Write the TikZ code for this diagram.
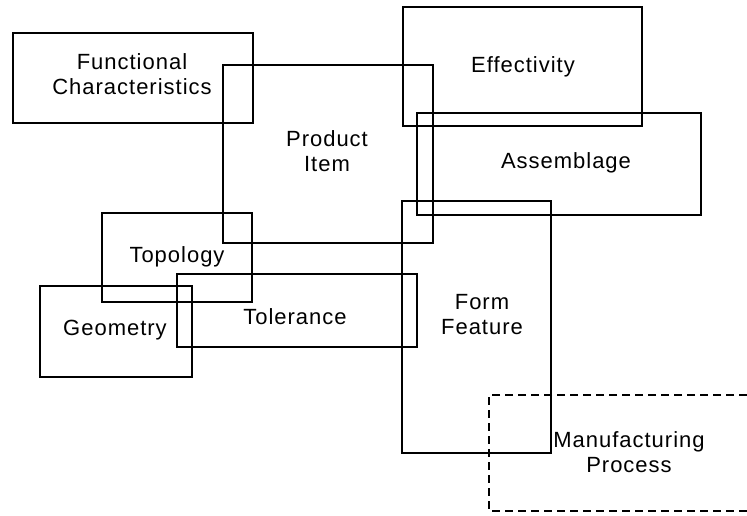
\documentclass[tikz,border=0pt]{standalone}
\usepackage{fontspec}
\setmainfont{Liberation Sans}[LetterSpace=4.5]
\begin{document}
\begin{tikzpicture}[x=1pt,y=-1pt,
  box/.style={draw=black,line width=1.7pt,line join=miter},
  dashbox/.style={draw=black,line width=1.7pt,dash pattern=on 8pt off 5pt},
  lbl/.style={inner sep=0pt,align=center,font=\fontsize{22}{25}\selectfont}]
\useasboundingbox[fill=white] (0,0) rectangle (747,516);
% boxes
\draw[box] (13,33) rectangle (253,123);
\draw[box] (223,65) rectangle (433,243);
\draw[box] (403,7) rectangle (642,126);
\draw[box] (417,113) rectangle (701,215);
\draw[box] (102,213) rectangle (252,302);
\draw[box] (177,274) rectangle (417,347);
\draw[box] (40,286) rectangle (192,377);
\draw[box] (402,201) rectangle (551,453);
\draw[dashbox] (747,395) -- (489,395) -- (489,511) -- (747,511);
% labels
\node[lbl] (fc) at (132,74) {Functional\\Characteristics};
\node[lbl] (pi) at (327,151) {Product\\Item};
\node[lbl] (ef) at (523,67) {Effectivity};
\node[lbl] (as) at (566,163) {Assemblage};
\node[lbl] (to) at (177,257) {Topology};
\node[lbl] (tl) at (295,317) {Tolerance};
\node[lbl] (ge) at (115,330) {Geometry};
\node[lbl] (ff) at (482,315) {Form\\Feature};
\node[lbl] (mp) at (629,452) {Manufacturing\\Process};
\end{tikzpicture}
\end{document}
